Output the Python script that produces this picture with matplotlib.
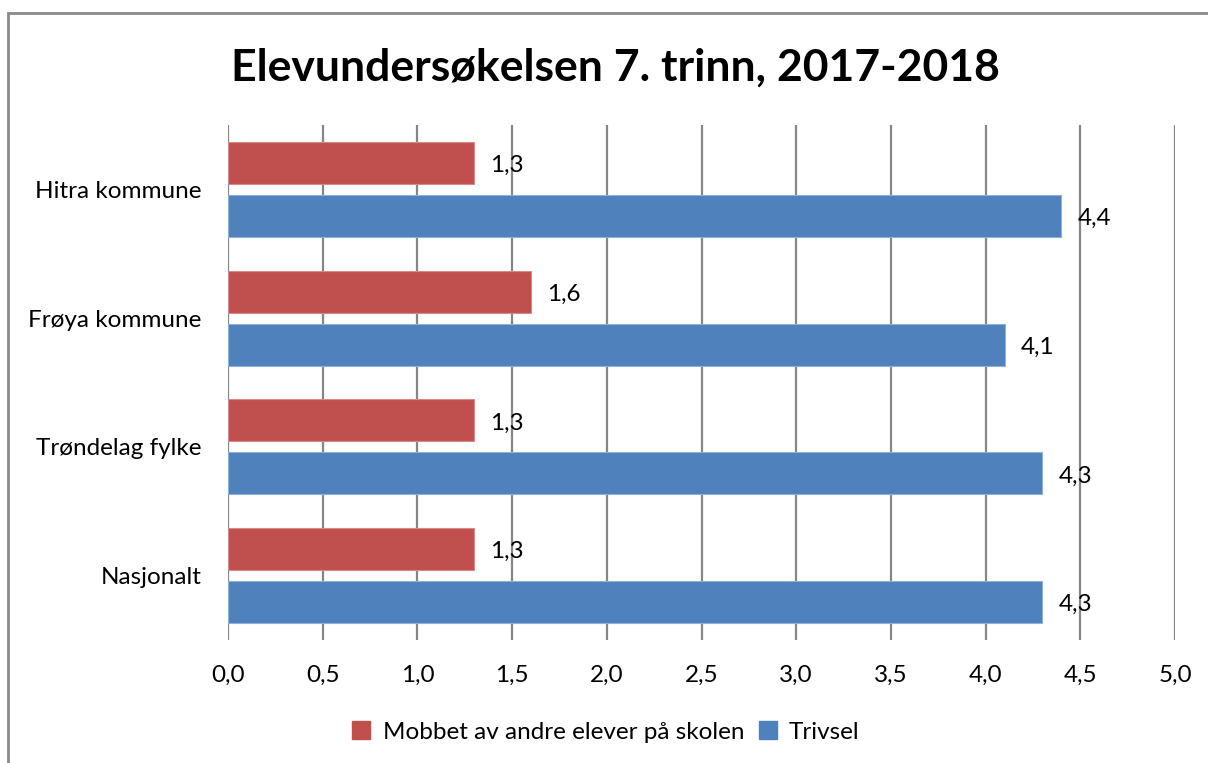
import matplotlib
matplotlib.use("Agg")
import matplotlib.pyplot as plt
from matplotlib.patches import Rectangle, Patch
import numpy as np

plt.rcParams['font.family'] = ['Lato', 'DejaVu Sans']

categories = ["Hitra kommune", "Frøya kommune", "Trøndelag fylke", "Nasjonalt"]
mobbet = [1.3, 1.6, 1.3, 1.3]
trivsel = [4.4, 4.1, 4.3, 4.3]
series_names = ["Mobbet av andre elever på skolen", "Trivsel"]
xticks = [0.0, 0.5, 1.0, 1.5, 2.0, 2.5, 3.0, 3.5, 4.0, 4.5, 5.0]

red = "#C0504D"
blue = "#4F81BD"
fs = 17.5

fig = plt.figure(figsize=(12.08, 7.63), dpi=100)
ax = fig.add_axes([228/1208, 1-640/763, 947/1208, 515/763])

# outer chart frame (cut off at right and bottom in the reference)
fig.patches.append(Rectangle((8/1208, -0.05), 1.2, 1.05 - 13/763, transform=fig.transFigure,
                             fill=False, edgecolor="#8a8a8a", linewidth=2))

y = np.arange(len(categories))
h = 0.326
off = 0.205
ax.barh(y - off, mobbet, height=h, color=red, edgecolor="#d88a88", linewidth=0.8, zorder=3)
ax.barh(y + off, trivsel, height=h, color=blue, edgecolor="#8fb0da", linewidth=0.8, zorder=3)

for yy, v in zip(y - off, mobbet):
    ax.text(v + 0.085, yy + 0.02, f"{v:.1f}".replace(".", ","), va="center", ha="left", fontsize=fs, zorder=4)
for yy, v in zip(y + off, trivsel):
    ax.text(v + 0.085, yy + 0.02, f"{v:.1f}".replace(".", ","), va="center", ha="left", fontsize=fs, zorder=4)

ax.set_xlim(0, 5)
ax.set_ylim(len(categories) - 0.5, -0.5)
ax.set_xticks(xticks)
ax.set_xticklabels([f"{t:.1f}".replace(".", ",") for t in xticks], fontsize=fs)
ax.set_yticks(y)
ax.set_yticklabels(categories, fontsize=fs)
ax.tick_params(axis="x", length=0, pad=18)
ax.tick_params(axis="y", length=0, pad=19)
ax.grid(axis="x", color="#868686", linewidth=1.6, zorder=0)
ax.grid(axis="y", visible=False)
for s in ax.spines.values():
    s.set_visible(False)

fig.text(615/1208, 1-68/763, "Elevundersøkelsen 7. trinn, 2017-2018", ha="center", va="center",
         fontsize=32, fontweight="bold")

handles = [Patch(color=red), Patch(color=blue)]
fig.legend(handles, series_names, loc="center", bbox_to_anchor=(606/1208, 1-732/763), ncol=2,
           frameon=False, fontsize=fs, handlelength=0.75, handleheight=0.75, handletextpad=0.5,
           columnspacing=0.6)

fig.savefig("out.png", dpi=100)
